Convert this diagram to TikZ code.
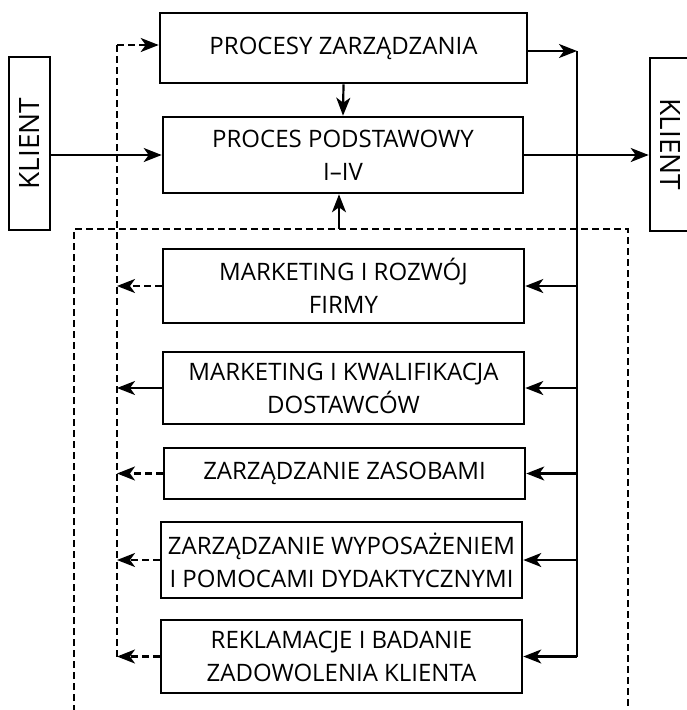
\documentclass[tikz,border=0pt]{standalone}
\usepackage{fontspec}
\setmainfont{Open Sans}
\usetikzlibrary{arrows.meta}

\begin{document}
\begin{tikzpicture}[x=1pt,y=-1pt,
	box/.style={draw,line width=2.6pt,align=center,inner sep=0pt,font=\fontsize{24}{33}\selectfont},
	clientbox/.style={draw,line width=2.6pt,inner sep=0pt,minimum width=173pt,minimum height=41pt,font=\fontsize{28}{30}\selectfont},
	tip/.style={-{Stealth[length=18pt,width=14pt,inset=5pt]}},
	conn/.style={line width=2.2pt},
	arr/.style={conn,tip},
	dashline/.style={line width=2.2pt,dash pattern=on 7pt off 4pt}]
	\useasboundingbox (0,0) rectangle (687,710);
	\node[box,minimum width=367pt,minimum height=70pt] (zarz) at (343.5,48) {PROCESY ZARZĄDZANIA};
	\node[box,minimum width=360pt,minimum height=76pt] (podst) at (343,155) {PROCES PODSTAWOWY\\I–IV};
	\node[clientbox,rotate=90] (kleft) at (29.5,143.5) {KLIENT};
	\node[clientbox,rotate=-90] (kright) at (670.5,144.5) {KLIENT};
	\node[box,minimum width=361pt,minimum height=74pt] (mark) at (343.5,286) {MARKETING I ROZWÓJ\\FIRMY};
	\node[box,minimum width=361pt,minimum height=72pt] (kwal) at (343.5,388) {MARKETING I KWALIFIKACJA\\DOSTAWCÓW};
	\node[box,minimum width=361pt,minimum height=51pt] (zasoby) at (344.5,473.5) {ZARZĄDZANIE ZASOBAMI};
	\node[box,minimum width=361pt,minimum height=76pt] (wypos) at (341.5,560) {ZARZĄDZANIE WYPOSAŻENIEM\\I POMOCAMI DYDAKTYCZNYMI};
	\node[box,minimum width=361pt,minimum height=73pt] (rekl) at (341.5,656.5) {REKLAMACJE I BADANIE\\ZADOWOLENIA KLIENTA};
	\coordinate (rbus) at (577,51);
	\coordinate (lbus) at (117,45);
	\coordinate (ftop) at (339,229);
	\coordinate (fleft) at (74,712);
	\coordinate (fright) at (628,712);
	\draw[dashline] (fleft) |- (ftop) -| (fright);
	\draw[arr] (ftop) -- (ftop |- podst.south);
	\draw[arr] (zarz.south) -- (podst.north);
	\draw[arr] (kleft.south |- podst.west) -- (podst.west);
	\draw[arr] (podst.east) -- (podst.east -| kright.south);
	\draw[arr] ([yshift=-3pt]zarz.east) -- (rbus);
	\draw[conn] (rbus) -- (rbus |- rekl.east);
	\draw[arr] (rbus |- mark.east) -- (mark.east);
	\draw[arr] (rbus |- kwal.east) -- (kwal.east);
	\draw[arr] (rbus |- zasoby.east) -- (zasoby.east);
	\draw[arr] (rbus |- wypos.east) -- (wypos.east);
	\draw[arr] (rbus |- rekl.east) -- (rekl.east);
	\draw[dashline] (lbus |- rekl.west) -- (lbus);
	\draw[dashline,tip] (lbus) -- ([yshift=3pt]zarz.west);
	\draw[dashline,tip] (mark.west) -- (mark.west -| lbus);
	\draw[arr] (kwal.west) -- (kwal.west -| lbus);
	\draw[dashline,tip] (zasoby.west) -- (zasoby.west -| lbus);
	\draw[dashline,tip] (wypos.west) -- (wypos.west -| lbus);
	\draw[dashline,tip] (rekl.west) -- (rekl.west -| lbus);
\end{tikzpicture}
\end{document}
